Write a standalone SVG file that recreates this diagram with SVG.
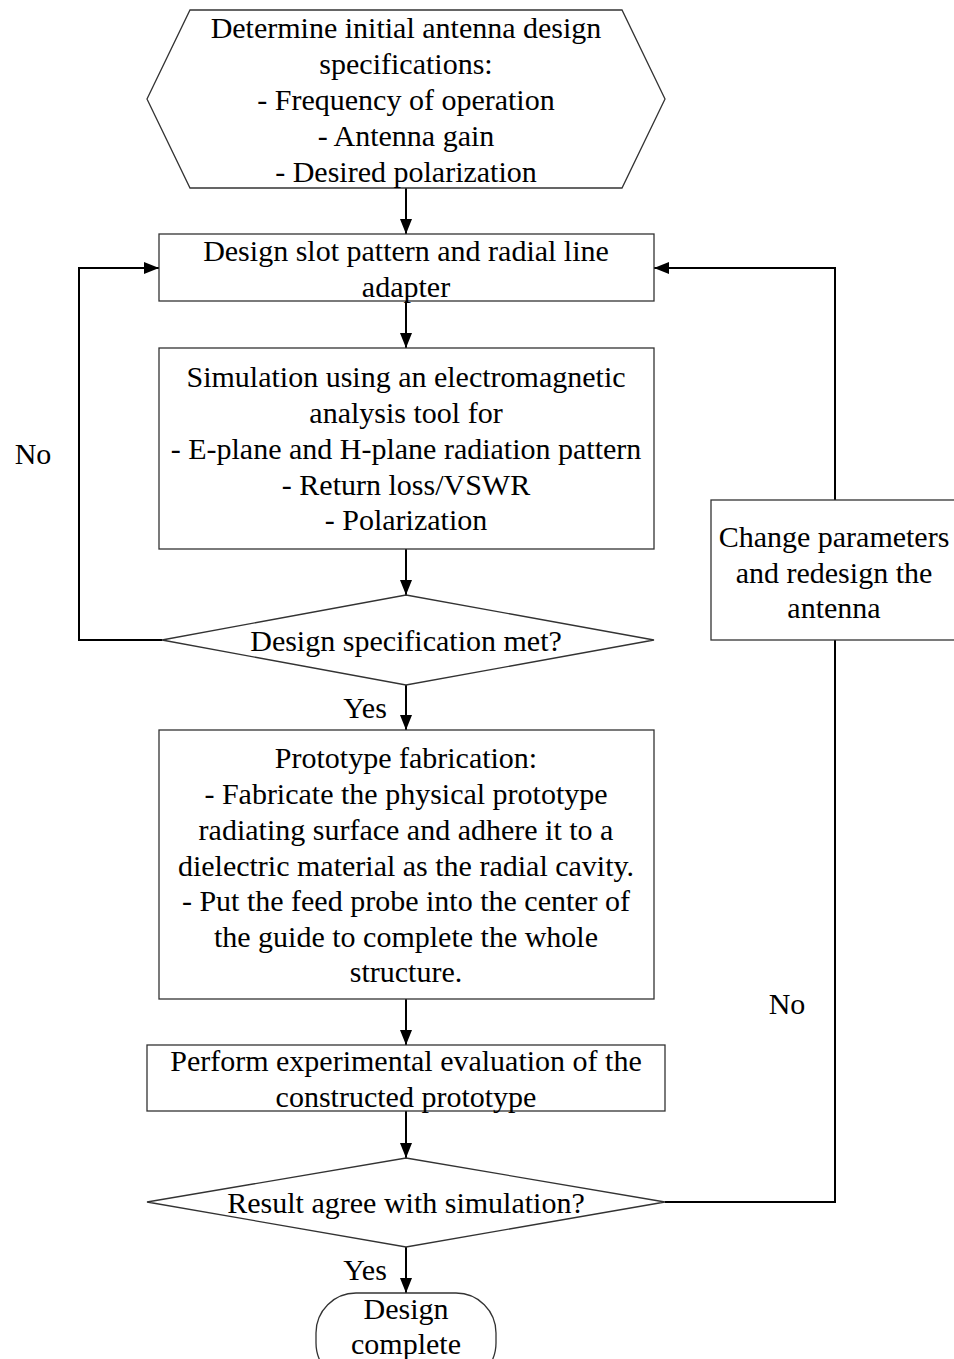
<svg xmlns="http://www.w3.org/2000/svg" width="954" height="1359" viewBox="0 0 954 1359">
<style>
.s{fill:#fff;stroke:#333;stroke-width:1.3}
.c{fill:none;stroke:#000;stroke-width:2}
text{font-family:"Liberation Serif","Times New Roman",serif;font-size:30px;fill:#000;text-anchor:middle;dominant-baseline:central}
</style>
<defs>
<marker id="a" markerWidth="15" markerHeight="12" refX="15" refY="6" orient="auto" markerUnits="userSpaceOnUse">
<path d="M0,0 L15,6 L0,12 Z" fill="#000"/>
</marker>
</defs>
<rect width="954" height="1359" fill="#fff"/>
<g id="connectors">
<line class="c" x1="406" y1="188" x2="406" y2="234" marker-end="url(#a)"/>
<line class="c" x1="406" y1="301" x2="406" y2="348" marker-end="url(#a)"/>
<line class="c" x1="406" y1="549" x2="406" y2="595" marker-end="url(#a)"/>
<line class="c" x1="406" y1="685" x2="406" y2="730" marker-end="url(#a)"/>
<line class="c" x1="406" y1="999" x2="406" y2="1045" marker-end="url(#a)"/>
<line class="c" x1="406" y1="1111" x2="406" y2="1158" marker-end="url(#a)"/>
<line class="c" x1="406" y1="1247" x2="406" y2="1293" marker-end="url(#a)"/>
<polyline class="c" points="162,640 79,640 79,268 159,268" marker-end="url(#a)"/>
<polyline class="c" points="665,1202 835,1202 835,640"/>
<polyline class="c" points="835,500 835,268 654,268" marker-end="url(#a)"/>
<text x="33" y="453">No</text>
<text x="787" y="1003">No</text>
<text x="365" y="707">Yes</text>
<text x="365" y="1269">Yes</text>
</g>
<g id="n_start">
<polygon class="s" points="190,10 622,10 665,99 622,188 190,188 147,99"/>
<text x="406" y="27">Determine initial antenna design</text>
<text x="406" y="63">specifications:</text>
<text x="406" y="99">- Frequency of operation</text>
<text x="406" y="135">- Antenna gain</text>
<text x="406" y="171">- Desired polarization</text>
</g>
<g id="n_design">
<rect class="s" x="159" y="234" width="495" height="67"/>
<text x="406" y="250">Design slot pattern and radial line</text>
<text x="406" y="286">adapter</text>
</g>
<g id="n_sim">
<rect class="s" x="159" y="348" width="495" height="201"/>
<text x="406" y="376">Simulation using an electromagnetic</text>
<text x="406" y="412">analysis tool for</text>
<text x="406" y="448">- E-plane and H-plane radiation pattern</text>
<text x="406" y="484">- Return loss/VSWR</text>
<text x="406" y="519">- Polarization</text>
</g>
<g id="n_check1">
<polygon class="s" points="406,595 654,640 406,685 162,640"/>
<text x="406" y="640">Design specification met?</text>
</g>
<g id="n_proto">
<rect class="s" x="159" y="730" width="495" height="269"/>
<text x="406" y="757">Prototype fabrication:</text>
<text x="406" y="793">- Fabricate the physical prototype</text>
<text x="406" y="829">radiating surface and adhere it to a</text>
<text x="406" y="865">dielectric material as the radial cavity.</text>
<text x="406" y="900">- Put the feed probe into the center of</text>
<text x="406" y="936">the guide to complete the whole</text>
<text x="406" y="971">structure.</text>
</g>
<g id="n_eval">
<rect class="s" x="147" y="1045" width="518" height="66"/>
<text x="406" y="1060">Perform experimental evaluation of the</text>
<text x="406" y="1096">constructed prototype</text>
</g>
<g id="n_check2">
<polygon class="s" points="406,1158 665,1202 406,1247 147,1202"/>
<text x="406" y="1202">Result agree with simulation?</text>
</g>
<g id="n_change">
<rect class="s" x="711" y="500" width="250" height="140"/>
<text x="834" y="536">Change parameters</text>
<text x="834" y="572">and redesign the</text>
<text x="834" y="607">antenna</text>
</g>
<g id="n_end">
<rect class="s" x="316" y="1293" width="180" height="90" rx="40" ry="40"/>
<text x="406" y="1308">Design</text>
<text x="406" y="1343">complete</text>
</g>
</svg>
